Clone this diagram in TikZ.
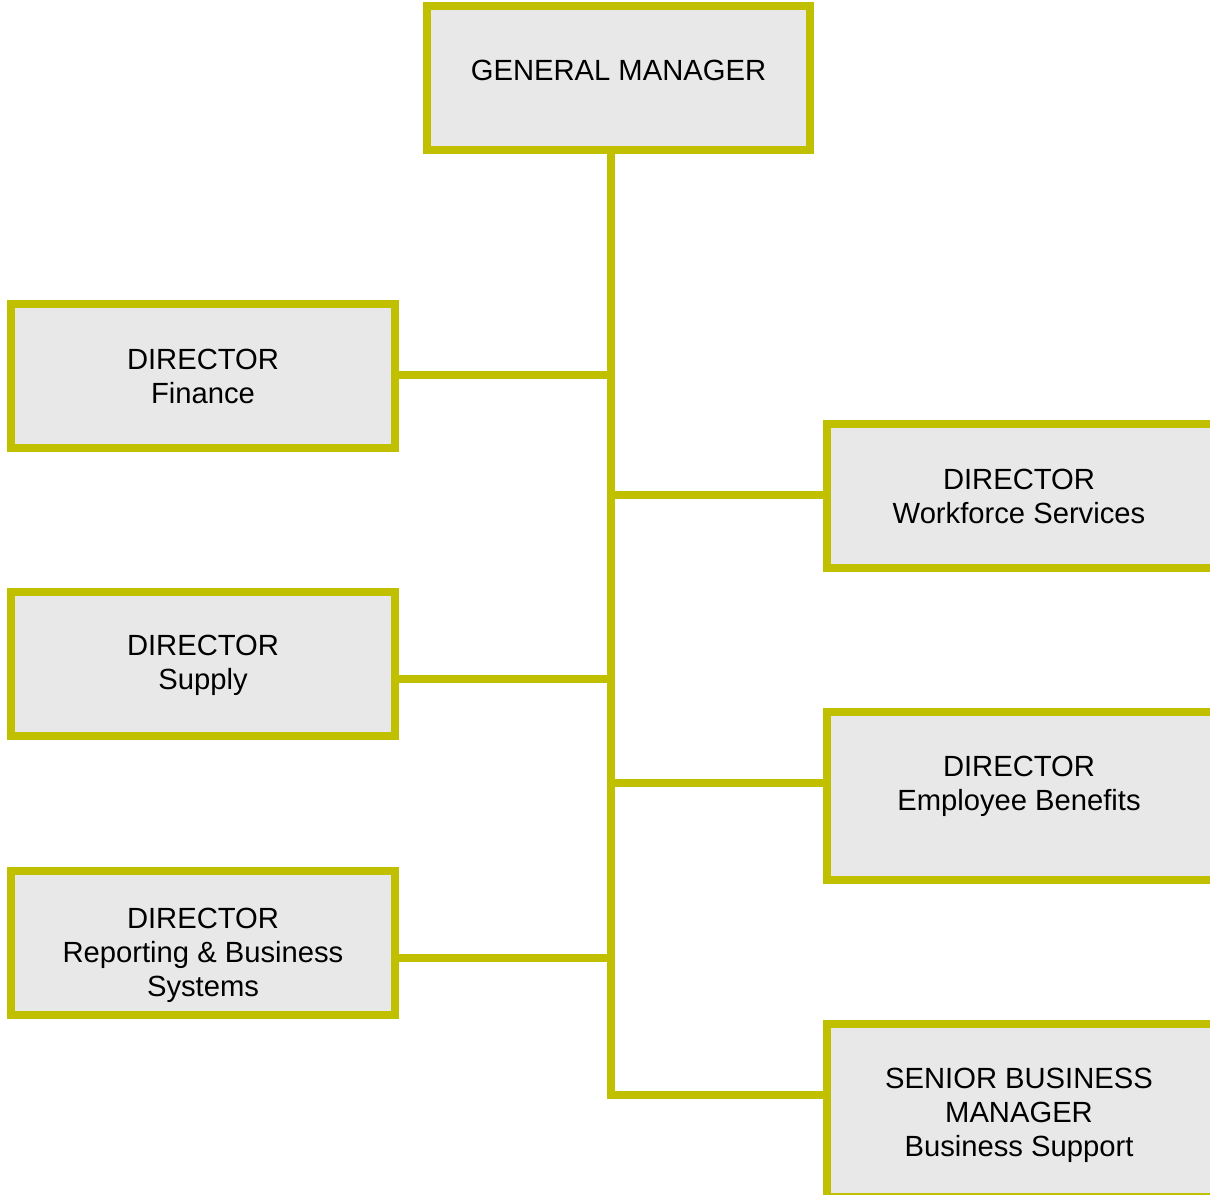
\documentclass[tikz,border=0pt]{standalone}
\usepackage{fontspec}
\setmainfont{Liberation Sans}
\definecolor{olivebd}{RGB}{192,192,0}
\definecolor{boxfill}{RGB}{232,232,232}
\begin{document}
\begin{tikzpicture}[x=1pt,y=-1pt,
  orgbox/.style={draw=olivebd,fill=boxfill,line width=8pt,inner sep=0pt,rectangle},
  orgtext/.style={anchor=north,inner sep=0pt,align=center,text=black,font=\fontsize{29.2}{34}\selectfont},
  conn/.style={draw=olivebd,line width=8pt,line join=miter}]
\path[use as bounding box] (0,0) rectangle (1210,1194);
\clip (0,0) rectangle (1210,1194);
\fill[white] (0,0) rectangle (1210,1194);

% boxes
\node[orgbox,minimum width=383pt,minimum height=144pt] (gm) at (618.5,78) {};
\node[orgbox,minimum width=384pt,minimum height=144pt] (fin) at (203,376) {};
\node[orgbox,minimum width=384pt,minimum height=144pt] (sup) at (203,664) {};
\node[orgbox,minimum width=384pt,minimum height=144pt] (rep) at (203,943) {};
\node[orgbox,minimum width=393pt,minimum height=144pt] (wfs) at (1023.5,496) {};
\node[orgbox,minimum width=393pt,minimum height=168pt] (emp) at (1023.5,796) {};
\node[orgbox,minimum width=393pt,minimum height=173pt] (sbm) at (1023.5,1110.5) {};

% connector points on the trunk
\coordinate (jF) at (611,375);
\coordinate (jW) at (611,495);
\coordinate (jS) at (611,679);
\coordinate (jE) at (611,783);
\coordinate (jR) at (611,958);
\coordinate (jB) at (611,1095);

% connectors
\draw[conn] (gm.south -| jB) -- (jB) -- (jB -| sbm.west);
\draw[conn] (jF) -- (jF -| fin.east);
\draw[conn] (jS) -- (jS -| sup.east);
\draw[conn] (jR) -- (jR -| rep.east);
\draw[conn] (jW) -- (jW -| wfs.west);
\draw[conn] (jE) -- (jE -| emp.west);

% texts
\node[orgtext] (gm-t) at (618.5,59.5) {GENERAL MANAGER};
\node[orgtext] (fin-t) at (203,349) {DIRECTOR\\Finance};
\node[orgtext] (sup-t) at (203,635) {DIRECTOR\\Supply};
\node[orgtext] (rep-t) at (203,908) {DIRECTOR\\Reporting \& Business\\Systems};
\node[orgtext] (wfs-t) at (1019,469) {DIRECTOR\\Workforce Services};
\node[orgtext] (emp-t) at (1019,756) {DIRECTOR\\Employee Benefits};
\node[orgtext] (sbm-t) at (1019,1067.5) {SENIOR BUSINESS\\MANAGER\\Business Support};
\end{tikzpicture}
\end{document}
